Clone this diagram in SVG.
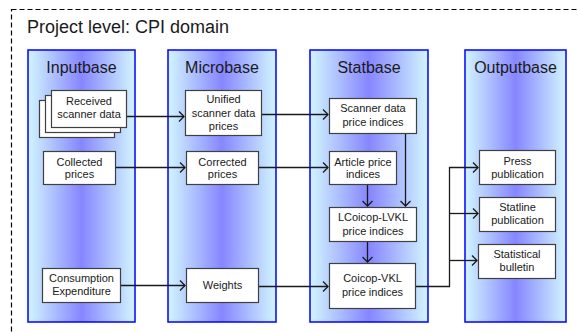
<svg xmlns="http://www.w3.org/2000/svg" width="578" height="332" viewBox="0 0 578 332">
<style>
  .col{stroke:#0000FF;stroke-width:1.5;fill:url(#colgrad)}
  .box{fill:#FFFFFF;stroke:#404040;stroke-width:1.2}
  .t{font-family:"Liberation Sans",Arial,sans-serif;font-size:11px;fill:#1a1a1a;text-anchor:middle}
  .h{font-family:"Liberation Sans",Arial,sans-serif;font-size:16px;fill:#1a1a1a;text-anchor:middle}
  .c{fill:none;stroke:#1a1a1a;stroke-width:1.3}
</style>
<defs>
  <linearGradient id="colgrad" x1="0" y1="0" x2="1" y2="0">
    <stop offset="0" stop-color="#D2F5FF"/>
    <stop offset="0.5" stop-color="#8686FF"/>
    <stop offset="1" stop-color="#D2F5FF"/>
  </linearGradient>
  <marker id="arr" markerUnits="userSpaceOnUse" markerWidth="12" markerHeight="12" refX="6" refY="6" orient="auto">
    <path d="M1,1 L6,6 L1,11" fill="none" stroke="#1a1a1a" stroke-width="1.3"/>
  </marker>
</defs>
<rect width="578" height="332" fill="#FFFFFF"/>
<rect x="11.5" y="9.5" width="575" height="330" fill="none" stroke="#000" stroke-width="1.2" stroke-dasharray="5,3"/>
<text x="27" y="33" font-family="'Liberation Sans',Arial,sans-serif" font-size="18" fill="#1a1a1a">Project level: CPI domain</text>

<g id="inputbase">
  <rect class="col" x="28" y="50" width="107" height="272"/>
  <text class="h" x="81.5" y="73">Inputbase</text>
</g>
<g id="microbase">
  <rect class="col" x="168" y="50" width="108" height="272"/>
  <text class="h" x="222" y="73">Microbase</text>
</g>
<g id="statbase">
  <rect class="col" x="310" y="50" width="118" height="272"/>
  <text class="h" x="369" y="73">Statbase</text>
</g>
<g id="outputbase">
  <rect class="col" x="465" y="50" width="101" height="272"/>
  <text class="h" x="515.5" y="73">Outputbase</text>
</g>

<g id="received">
  <rect class="box" x="39.5" y="100.5" width="75" height="37"/>
  <rect class="box" x="45.5" y="95.5" width="75" height="37"/>
  <rect class="box" x="51.5" y="90.5" width="75" height="37"/>
  <text class="t" x="89" y="105">Received</text>
  <text class="t" x="89" y="118">scanner data</text>
</g>
<g id="unified">
  <rect class="box" x="185.5" y="90.5" width="76" height="45"/>
  <text class="t" x="223.5" y="103">Unified</text>
  <text class="t" x="223.5" y="116.5">scanner data</text>
  <text class="t" x="223.5" y="129.5">prices</text>
</g>
<g id="collected">
  <rect class="box" x="43.5" y="151.5" width="72" height="33"/>
  <text class="t" x="79.5" y="165.5">Collected</text>
  <text class="t" x="79.5" y="178">prices</text>
</g>
<g id="corrected">
  <rect class="box" x="186.5" y="151.5" width="72" height="33"/>
  <text class="t" x="222.5" y="165.5">Corrected</text>
  <text class="t" x="222.5" y="178">prices</text>
</g>
<g id="consumption">
  <rect class="box" x="42.5" y="268.5" width="78" height="34"/>
  <text class="t" x="81.5" y="282">Consumption</text>
  <text class="t" x="81.5" y="295">Expenditure</text>
</g>
<g id="weights">
  <rect class="box" x="186.5" y="268.5" width="72" height="34"/>
  <text class="t" x="222.5" y="289">Weights</text>
</g>
<g id="scannerindices">
  <rect class="box" x="329.5" y="98.5" width="87" height="35"/>
  <text class="t" x="373" y="112">Scanner data</text>
  <text class="t" x="373" y="126">price indices</text>
</g>
<g id="article">
  <rect class="box" x="329.5" y="151.5" width="67" height="33"/>
  <text class="t" x="363" y="165.5">Article price</text>
  <text class="t" x="363" y="178">indices</text>
</g>
<g id="lcoicop">
  <rect class="box" x="329.5" y="207.5" width="87" height="34"/>
  <text class="t" x="373" y="221">LCoicop-LVKL</text>
  <text class="t" x="373" y="234.5">price indices</text>
</g>
<g id="coicop">
  <rect class="box" x="329.5" y="263.5" width="86" height="45"/>
  <text class="t" x="372.5" y="282">Coicop-VKL</text>
  <text class="t" x="372.5" y="295.5">price indices</text>
</g>
<g id="press">
  <rect class="box" x="479.5" y="150.5" width="76" height="34"/>
  <text class="t" x="517.5" y="164.5">Press</text>
  <text class="t" x="517.5" y="177.5">publication</text>
</g>
<g id="statline">
  <rect class="box" x="479.5" y="197.5" width="76" height="34"/>
  <text class="t" x="517.5" y="211">Statline</text>
  <text class="t" x="517.5" y="224">publication</text>
</g>
<g id="bulletin">
  <rect class="box" x="478.5" y="244.5" width="77" height="34"/>
  <text class="t" x="517" y="258">Statistical</text>
  <text class="t" x="517" y="271">bulletin</text>
</g>

<g id="connectors">
  <path class="c" d="M127,116.5 H184" marker-end="url(#arr)"/>
  <path class="c" d="M262,114.5 H328" marker-end="url(#arr)" stroke="#444"/>
  <path class="c" d="M116,167.5 H185" marker-end="url(#arr)"/>
  <path class="c" d="M259,167.5 H328" marker-end="url(#arr)"/>
  <path class="c" d="M121,285.5 H185" marker-end="url(#arr)"/>
  <path class="c" d="M259,286.5 H328" marker-end="url(#arr)"/>
  <path class="c" d="M405.5,134 V206" marker-end="url(#arr)"/>
  <path class="c" d="M367.5,185 V206" marker-end="url(#arr)"/>
  <path class="c" d="M367.5,242 V262" marker-end="url(#arr)"/>
  <path class="c" d="M416,286.5 H449.5 V167.5 H478" marker-end="url(#arr)"/>
  <path class="c" d="M449.5,213.5 H478" marker-end="url(#arr)"/>
  <path class="c" d="M449.5,260.5 H477" marker-end="url(#arr)"/>
</g>
</svg>
